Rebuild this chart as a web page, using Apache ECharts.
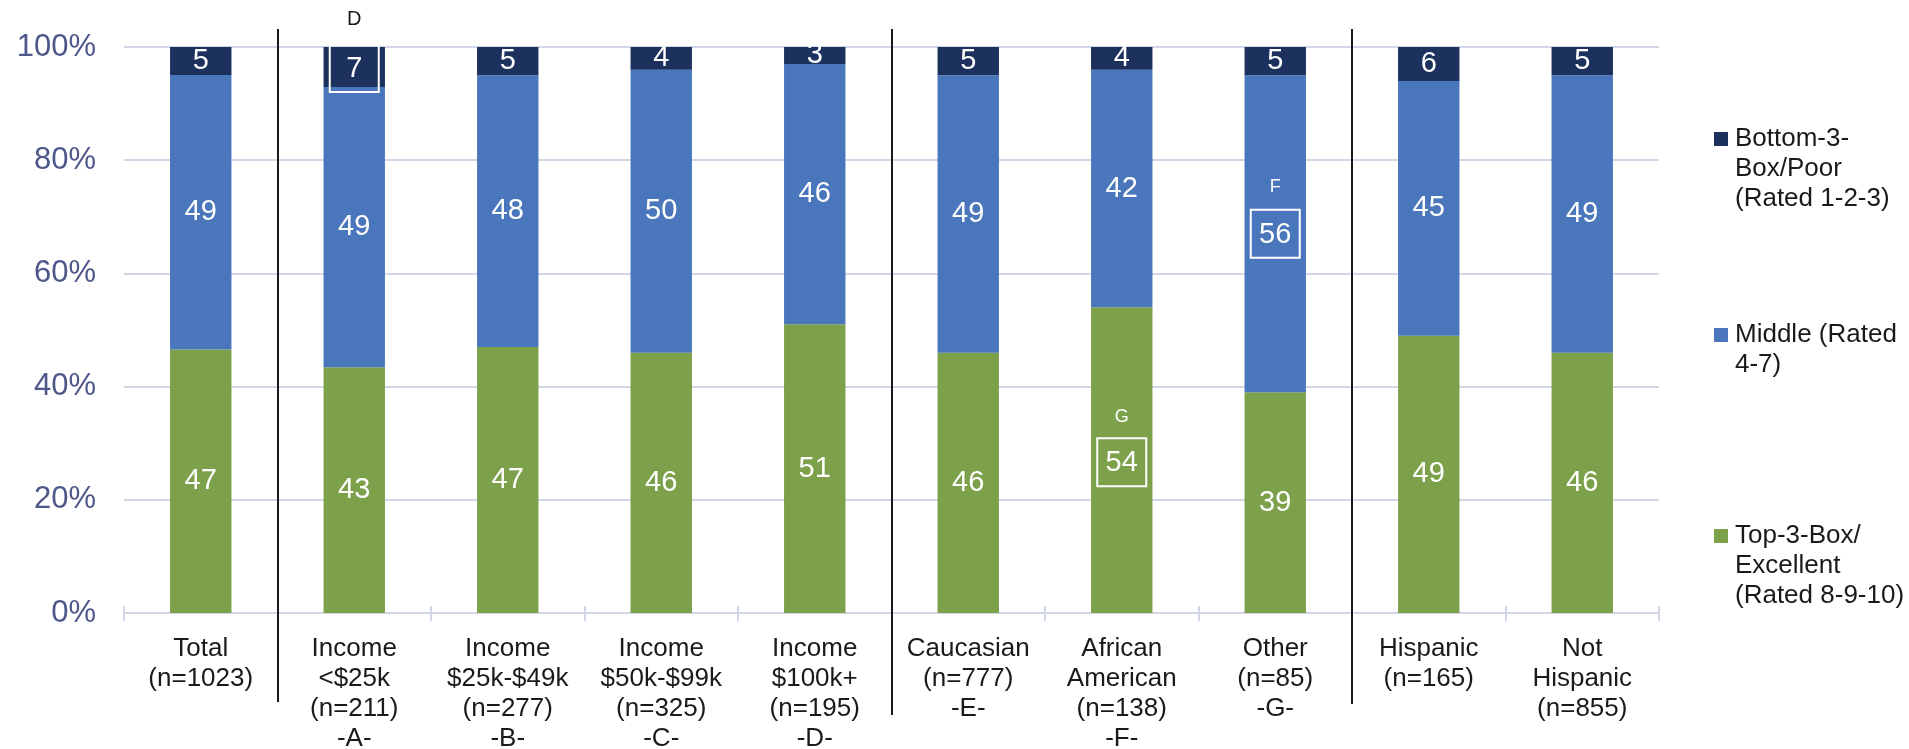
<!DOCTYPE html>
<html>
<head>
<meta charset="utf-8">
<script src="https://cdn.jsdelivr.net/npm/echarts@6/dist/echarts.min.js"></script>
<style>
  html, body { margin: 0; padding: 0; background: #ffffff; }
  #chart { width: 1909px; height: 749px; }
</style>
</head>
<body>
<div id="chart"></div>
<script>
// Groups shown along the x axis
const categories = [
  'Total\n(n=1023)',
  'Income\n<$25k\n(n=211)\n-A-',
  'Income\n$25k-$49k\n(n=277)\n-B-',
  'Income\n$50k-$99k\n(n=325)\n-C-',
  'Income\n$100k+\n(n=195)\n-D-',
  'Caucasian\n(n=777)\n-E-',
  'African\nAmerican\n(n=138)\n-F-',
  'Other\n(n=85)\n-G-',
  'Hispanic\n(n=165)',
  'Not\nHispanic\n(n=855)'
];

// Percent of respondents per rating band
const topBox    = [47, 43, 47, 46, 51, 46, 54, 39, 49, 46];
const middleBox = [49, 49, 48, 50, 46, 49, 42, 56, 45, 49];
const bottomBox = [5, 7, 5, 4, 3, 5, 4, 5, 6, 5];

// Significance letters (column that the value is significantly higher than)
const sigTop    = ['', '', '', '', '', '', 'G', '', '', ''];
const sigMiddle = ['', '', '', '', '', '', '', 'F', '', ''];
const sigBottom = ['', 'D', '', '', '', '', '', '', '', ''];

// Band names (legend text, with its line breaks)
const nameTop    = 'Top-3-Box/\nExcellent\n(Rated 8-9-10)';
const nameMiddle = 'Middle (Rated\n4-7)';
const nameBottom = 'Bottom-3-\nBox/Poor\n(Rated 1-2-3)';

const yTickValues = [0, 20, 40, 60, 80, 100];

const COLORS = { top: '#7da04a', middle: '#4a77bb', bottom: '#1c315e' };
const AXIS_GREY = '#d3d6e6';
const FONT = '"Liberation Sans", Arial, Helvetica, sans-serif';

const chart = echarts.init(document.getElementById('chart'), null, { renderer: 'canvas' });

function rowTotal(i) { return topBox[i] + middleBox[i] + bottomBox[i]; }

// Vertical placement of boxed (significant) labels: height of the letter line
// above the box, and a small nudge of the box from the segment centre.
const SIG_LAYOUT = {
  top:    { lineHeight: 42, nudge: 2 },
  middle: { lineHeight: 46, nudge: 0 },
  bottom: { lineHeight: 50, nudge: 1 }
};

// Each stacked column is scaled to 100 %
function buildData(values, sigs, layout) {
  return values.map((v, i) => {
    const item = { value: v / rowTotal(i) * 100, raw: v, sig: sigs[i] };
    if (sigs[i]) {
      item.label = { offset: [0, -layout.lineHeight / 2 + layout.nudge] };
    }
    return item;
  });
}

function labelFor(sigColor, sigSize, layout) {
  return {
    show: true,
    position: 'inside',
    color: '#ffffff',
    fontSize: 29,
    fontFamily: FONT,
    formatter: function (p) {
      if (p.data.sig) {
        return '{sig|' + p.data.sig + '}\n{box|' + p.data.raw + '}';
      }
      return String(p.data.raw);
    },
    rich: {
      sig: { fontSize: sigSize, color: sigColor, fontFamily: FONT, align: 'center', lineHeight: layout.lineHeight },
      box: {
        fontSize: 29, color: '#ffffff', fontFamily: FONT, align: 'center',
        height: 42, lineHeight: 48, width: 45,
        borderColor: '#ffffff', borderWidth: 2, padding: [4, 2, 2, 2]
      }
    }
  };
}

function makeSeries(name, values, color, sigs, layout, sigColor, sigSize) {
  return {
    name: name,
    type: 'bar',
    stack: 'share',
    barWidth: '40%',
    xAxisIndex: 0,
    itemStyle: { color: color },
    emphasis: { disabled: true },
    label: labelFor(sigColor, sigSize, layout),
    data: buildData(values, sigs, layout)
  };
}

const legendOrder = [
  { name: nameBottom, key: 'sq0', color: COLORS.bottom, top: 126 },
  { name: nameMiddle, key: 'sq1', color: COLORS.middle, top: 322 },
  { name: nameTop,    key: 'sq2', color: COLORS.top,    top: 523 }
];

const legendRich = {
  t: { fontSize: 26, lineHeight: 30, color: '#1a1a1a', fontFamily: FONT },
  g: { width: 7 },
  pad: { width: 21 }
};
legendOrder.forEach(l => { legendRich[l.key] = { width: 14, height: 14, backgroundColor: l.color }; });

const option = {
  animation: false,
  backgroundColor: '#ffffff',
  textStyle: { fontFamily: FONT },
  grid: {
    left: 124, right: 250, top: 47, bottom: 136,
    containLabel: false,
    outerBoundsMode: 'none'
  },
  legend: legendOrder.map(l => ({
    data: [{ name: l.name, icon: 'none' }],
    orient: 'vertical',
    left: 1709,
    top: l.top,
    padding: 0,
    itemWidth: 0,
    itemHeight: 14,
    selectedMode: false,
    formatter: function (name) {
      return name.split('\n').map((line, j) =>
        (j === 0 ? '{' + l.key + '|}{g|}' : '{pad|}') + '{t|' + line + '}'
      ).join('\n');
    },
    textStyle: { rich: legendRich }
  })),
  xAxis: [
    {
      type: 'category',
      data: categories,
      boundaryGap: true,
      axisLine: { show: true, lineStyle: { color: AXIS_GREY, width: 2 } },
      axisTick: { show: true, length: 8, lineStyle: { color: AXIS_GREY, width: 2 } },
      axisLabel: {
        interval: 0,
        color: '#1a1a1a',
        fontSize: 26,
        lineHeight: 30,
        fontFamily: FONT,
        margin: 21
      }
    },
    {
      // upper half of the category tick marks, which cross the axis line
      type: 'category',
      data: categories,
      position: 'bottom',
      boundaryGap: true,
      axisLine: { show: false },
      axisTick: { show: true, inside: true, length: 7, lineStyle: { color: AXIS_GREY, width: 2 } },
      axisLabel: { show: false },
      splitLine: { show: false }
    }
  ],
  yAxis: {
    type: 'value',
    min: 0,
    max: 100,
    interval: 20,
    axisLine: { show: false },
    axisTick: { show: false },
    splitLine: { show: true, lineStyle: { color: AXIS_GREY, width: 2 } },
    axisLabel: {
      color: '#4d5789',
      fontSize: 31,
      fontFamily: FONT,
      margin: 28,
      customValues: yTickValues,
      formatter: '{value}%'
    }
  },
  series: [
    makeSeries(nameTop, topBox, COLORS.top, sigTop, SIG_LAYOUT.top, '#ffffff', 18),
    makeSeries(nameMiddle, middleBox, COLORS.middle, sigMiddle, SIG_LAYOUT.middle, '#ffffff', 18),
    makeSeries(nameBottom, bottomBox, COLORS.bottom, sigBottom, SIG_LAYOUT.bottom, '#1a1a1a', 20)
  ]
};

chart.setOption(option);

// Vertical dividers between the Total / Income / Race / Ethnicity groups
const dividers = [
  { after: 0, bottom: 702 },
  { after: 4, bottom: 715 },
  { after: 7, bottom: 704 }
];
const lines = dividers.map(d => {
  const x0 = chart.convertToPixel({ xAxisIndex: 0 }, d.after);
  const x1 = chart.convertToPixel({ xAxisIndex: 0 }, d.after + 1);
  const x = Math.round((x0 + x1) / 2);
  return {
    type: 'line',
    shape: { x1: x, y1: 29, x2: x, y2: d.bottom },
    style: { stroke: '#1a1a1a', lineWidth: 2 },
    silent: true,
    z: 10
  };
});
chart.setOption({ graphic: lines });
</script>
</body>
</html>
